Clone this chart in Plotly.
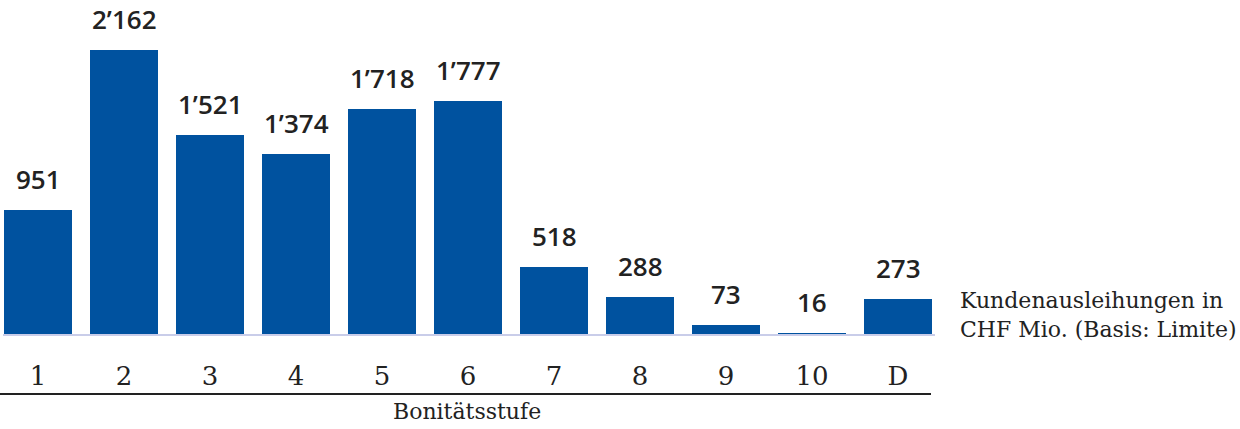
import plotly.graph_objects as go

categories = ["1", "2", "3", "4", "5", "6", "7", "8", "9", "10", "D"]
values = [951, 2162, 1521, 1374, 1718, 1777, 518, 288, 73, 16, 273]
axis_title = "Bonitätsstufe"
legend_text = "Kundenausleihungen in<br>CHF Mio. (Basis: Limite)"

BLUE = "#00529F"
W, H = 1240, 429
plot_w = 941
base_y = 335

xs = list(range(len(categories)))
labels = [f"{v:,}".replace(",", "\u2019") for v in values]

fig = go.Figure()
fig.add_trace(go.Bar(x=xs, y=values, width=0.8, marker=dict(color=BLUE, line=dict(width=0)),
                     hoverinfo="skip"))

for x, v, t in zip(xs, values, labels):
    fig.add_annotation(x=x, y=v, text=t, showarrow=False, yanchor="bottom", yshift=11,
                       font=dict(family="Open Sans", size=26, color="#222", weight=600))

fig.add_annotation(xref="paper", yref="paper", x=958 / plot_w, y=(base_y - 315) / base_y,
                   xanchor="left", yanchor="middle", align="left", showarrow=False,
                   text=legend_text,
                   font=dict(family="DejaVu Serif", size=22, color="#222"))
fig.add_annotation(xref="paper", yref="paper", x=467 / plot_w, y=-(411 - base_y) / base_y,
                   xanchor="center", yanchor="middle", showarrow=False, text=axis_title,
                   font=dict(family="DejaVu Serif", size=22, color="#222"))

fig.add_shape(type="line", xref="paper", yref="paper", x0=3 / plot_w, x1=935 / plot_w,
              y0=0, y1=0, line=dict(color="#C9CDE9", width=2))
fig.add_shape(type="line", xref="paper", yref="paper", x0=0, x1=931 / plot_w,
              y0=-(394 - base_y) / base_y, y1=-(394 - base_y) / base_y,
              line=dict(color="#222", width=2))

fig.update_xaxes(range=[-38 / 86, -38 / 86 + plot_w / 86], tickmode="array", tickvals=xs,
                 ticktext=categories, showgrid=False, zeroline=False, showline=False,
                 ticks="", ticklabelstandoff=23,
                 tickfont=dict(family="DejaVu Serif", size=26, color="#222"))
fig.update_yaxes(range=[0, base_y / (285 / 2162)], visible=False, showgrid=False)

fig.update_layout(width=W, height=H, margin=dict(l=0, r=W - plot_w, t=0, b=H - base_y),
                  plot_bgcolor="white", paper_bgcolor="white", showlegend=False, bargap=0)
fig.write_html("out.html", config={"displayModeBar": False},
               post_script="document.body.style.margin='0';document.body.style.overflow='hidden';")
